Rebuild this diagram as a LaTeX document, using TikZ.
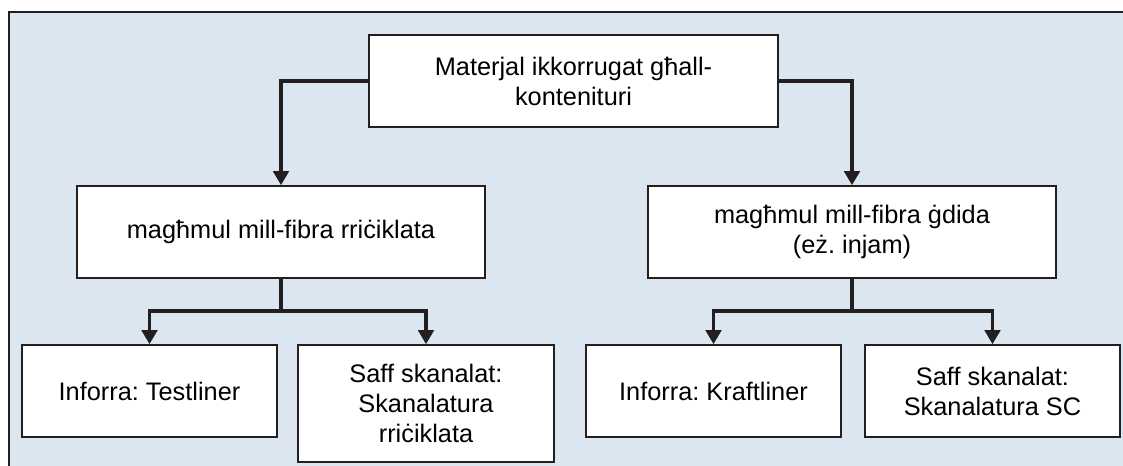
\documentclass[tikz,border=0pt]{standalone}
\usepackage{fontspec}
\setmainfont{Liberation Sans}
\usepackage{xcolor}
\usepackage{tikz}
\usetikzlibrary{arrows.meta}
\definecolor{panelblue}{RGB}{220,230,240}
\definecolor{inkgray}{RGB}{35,31,32}
\frenchspacing

\begin{document}
\begin{tikzpicture}[x=0.75pt, y=-0.75pt,
    box/.style={draw=inkgray, line width=1.2pt, fill=white, align=center, inner sep=0pt,
        minimum height=69pt, font=\fontsize{19}{22.5}\selectfont},
    link/.style={draw=inkgray, line width=2.9pt},
    arr/.style={link, -{Triangle[width=11.5pt,length=10.5pt]}}]
    \clip (0,0) rectangle (1123,465);
    \fill[white] (0,0) rectangle (1123,465);
    % Panel behind the chart
    \draw[fill=panelblue, draw=inkgray, line width=1.6pt] (9,12) rectangle (1140,495);
    % Boxes
    \node[box, minimum width=306.75pt] (mat) at (573.5,81) {Materjal ikkorrugat għall-\\kontenituri};
    \node[box, minimum width=306pt] (recy) at (281,232) {magħmul mill-fibra rriċiklata};
    \node[box, minimum width=306pt] (virg) at (852,232) {magħmul mill-fibra ġdida\\(eż. injam)};
    \node[box, minimum width=191.25pt] (test) at (149.5,391) {Inforra: Testliner};
    \node[box, minimum width=192pt, minimum height=87.75pt] (rflute) at (426,403.5) {Saff skanalat:\\Skanalatura\\rriċiklata};
    \node[box, minimum width=191.25pt] (kraft) at (713.5,391) {Inforra: Kraftliner};
    \node[box, minimum width=191.25pt] (scflute) at (992.5,391) {Saff skanalat:\\Skanalatura SC};
    % Junctions
    \coordinate (rj) at (281,311);
    \coordinate (vj) at (852,311);
    % Arrows
    \draw[arr] (mat.west) -| (recy.north);
    \draw[arr] (mat.east) -| (virg.north);
    \draw[arr] (recy.south) -- (rj) -| (test.north);
    \draw[arr] (rj) -| (rflute.north);
    \draw[arr] (virg.south) -- (vj) -| (kraft.north);
    \draw[arr] (vj) -| (scflute.north);
\end{tikzpicture}
\end{document}
